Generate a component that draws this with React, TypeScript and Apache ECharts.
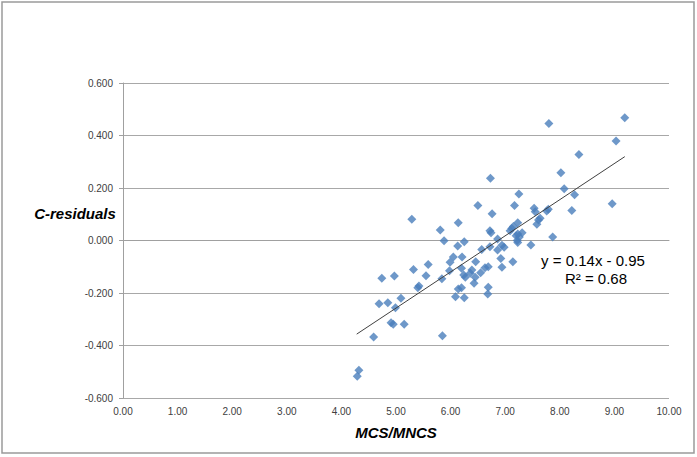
import React, { useEffect, useRef } from "react";
import * as echarts from "echarts";

const mcsMncs: number[] = [
  9.19, 7.8, 9.03, 8.35, 8.02, 8.08, 8.27, 8.96, 8.22, 7.79, 7.76, 7.64, 7.61, 7.58, 7.87,
  6.73, 7.25, 6.5, 7.17, 7.53, 7.55, 6.76, 6.14, 7.23, 6.72, 6.74, 7.12, 7.09, 7.15, 7.31,
  7.23, 7.2, 7.26, 7.22, 5.88, 6.25, 5.29, 5.81, 6.86, 7.47, 7.23, 6.13, 6.57, 6.72, 6.86,
  6.94, 6.98, 6.05, 6.21, 6.92, 5.99, 6.46, 5.84, 6.2, 6.39, 6.36, 6.24, 6.27, 6.45, 6.55,
  6.63, 6.69, 6.94, 7.14, 6.43, 6.69, 6.68, 6.14, 6.2, 6.09, 6.25, 5.59, 5.32, 4.74, 4.97,
  5.55, 5.42, 5.4, 5.09, 4.69, 4.85, 4.99, 4.91, 4.95, 5.15, 4.59, 5.85, 4.32, 4.29, 5.98,
];
const cResiduals: number[] = [
  0.468, 0.446, 0.379, 0.328, 0.258, 0.197, 0.174, 0.14, 0.114, 0.119, 0.112, 0.085, 0.078, 0.062, 0.013,
  0.237, 0.177, 0.133, 0.133, 0.123, 0.11, 0.102, 0.068, 0.068, 0.037, 0.03, 0.046, 0.037, 0.053, 0.03,
  0.025, 0.018, 0.013, 0.0, -0.001, -0.005, 0.081, 0.04, 0.006, -0.017, -0.008, -0.021, -0.034, -0.024, -0.036,
  -0.018, -0.026, -0.063, -0.063, -0.069, -0.083, -0.081, -0.146, -0.106, -0.112, -0.125, -0.131, -0.14, -0.14, -0.123,
  -0.104, -0.1, -0.102, -0.081, -0.163, -0.178, -0.204, -0.185, -0.18, -0.214, -0.218, -0.091, -0.11, -0.144, -0.135,
  -0.134, -0.173, -0.18, -0.22, -0.241, -0.237, -0.256, -0.313, -0.319, -0.319, -0.368, -0.363, -0.494, -0.517, -0.115,
];

const trendSlope = 0.1377;
const trendIntercept = -0.946;
const trendRange: number[] = [4.28, 9.19];
const equationText = "y = 0.14x - 0.95";
const r2Text = "R² = 0.68";

const xAxisName = "MCS/MNCS";
const yAxisName = "C-residuals";

export default function App() {
  const ref = useRef<HTMLDivElement>(null);
  useEffect(() => {
    if (!ref.current) return;
    const chart = echarts.init(ref.current, null, { renderer: "svg" });
    const points = mcsMncs.map((x, i) => [x, cResiduals[i]]);
    const trend = trendRange.map((x) => [x, trendSlope * x + trendIntercept]);
    const font = "'Liberation Sans', Arial, sans-serif";
    chart.setOption({
      animation: false,
      backgroundColor: "#ffffff",
      grid: { left: 123, right: 28, top: 83, bottom: 59 },
      xAxis: {
        type: "value",
        min: 0,
        max: 10,
        interval: 1,
        name: xAxisName,
        nameLocation: "middle",
        nameGap: 27,
        nameTextStyle: { fontFamily: font, fontSize: 15, fontWeight: "bold", fontStyle: "italic", color: "#000" },
        axisLine: { show: true, lineStyle: { color: "#a0a0a0", width: 1 } },
        axisTick: { show: false },
        splitLine: { show: false },
        axisLabel: {
          formatter: (v: number) => v.toFixed(2),
          fontFamily: font,
          fontSize: 10,
          color: "#404040",
          margin: 8,
        },
      },
      yAxis: {
        type: "value",
        min: -0.6,
        max: 0.6,
        interval: 0.2,
        axisLine: { show: true, lineStyle: { color: "#a0a0a0", width: 1 } },
        axisTick: { show: true, length: 4, lineStyle: { color: "#a0a0a0" } },
        splitLine: { show: true, lineStyle: { color: "#a8a8a8", width: 1 } },
        axisLabel: {
          formatter: (v: number) => v.toFixed(3),
          fontFamily: font,
          fontSize: 10,
          color: "#404040",
          margin: 10,
        },
      },
      series: [
        {
          type: "scatter",
          data: points,
          symbol: "diamond",
          symbolSize: 9,
          itemStyle: { color: "#4a7ebb" },
          z: 3,
        },
        {
          type: "line",
          data: trend,
          symbol: "none",
          lineStyle: { color: "#404040", width: 1 },
          z: 4,
        },
      ],
      graphic: [
        {
          type: "rect",
          shape: { x: 2, y: 2, width: 692, height: 451 },
          style: { fill: "none", stroke: "#9a9a9a", lineWidth: 1.5 },
          silent: true,
        },
        {
          type: "text",
          x: 75,
          y: 213,
          style: {
            text: yAxisName,
            fontFamily: font,
            fontSize: 15,
            fontWeight: "bold",
            fontStyle: "italic",
            fill: "#000",
            align: "center",
            verticalAlign: "middle",
          },
        },
        {
          type: "text",
          x: 593,
          y: 260,
          style: {
            text: equationText,
            fontFamily: font,
            fontSize: 15,
            fill: "#000",
            align: "center",
            verticalAlign: "middle",
          },
        },
        {
          type: "text",
          x: 596,
          y: 278,
          style: {
            text: r2Text,
            fontFamily: font,
            fontSize: 15,
            fill: "#000",
            align: "center",
            verticalAlign: "middle",
          },
        },
      ],
    });
    return () => chart.dispose();
  }, []);
  return (
    <div
      ref={ref}
      style={{ position: "fixed", left: 0, top: 0, width: 697, height: 457 }}
    />
  );
}
